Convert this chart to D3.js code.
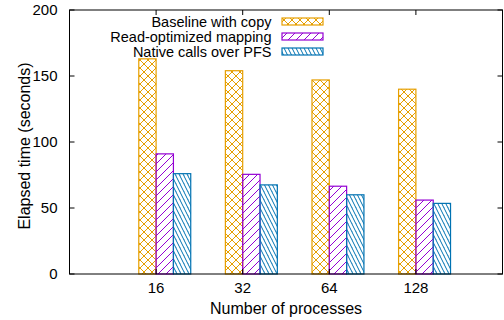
<!DOCTYPE html>
<html>
<head>
<meta charset="utf-8">
<script src="https://cdn.jsdelivr.net/npm/d3@7"></script>
<style>
  html, body { margin: 0; padding: 0; background: #fff; }
  svg { display: block; }
  text { font-family: "Liberation Sans", Arial, Helvetica, sans-serif; fill: #000; }
</style>
</head>
<body>
<svg id="chart" width="504" height="320"></svg>
<script>
const categories = ["16", "32", "64", "128"];
const seriesNames = ["Baseline with copy", "Read-optimized mapping", "Native calls over PFS"];
const baseline = [163, 154, 147, 140];
const readOptimized = [91, 75.5, 66.5, 56];
const nativeCalls = [76, 67.5, 60, 53.5];
const yTicks = [0, 50, 100, 150, 200];
const colors = ["#E69F00", "#9400D3", "#0072B2"];

const series = [baseline, readOptimized, nativeCalls];

const svg = d3.select("#chart");
const pL = 69.5, pR = 502.5, pT = 10, pB = 274;

const x = d3.scaleLinear().domain([0, categories.length + 1]).range([pL, pR]);
const y = d3.scaleLinear().domain([0, 200]).range([pB, pT]);

// patterns
const defs = svg.append("defs");
const p0 = defs.append("pattern").attr("id", "pat0").attr("patternUnits", "userSpaceOnUse")
  .attr("width", 8).attr("height", 8);
p0.append("path").attr("d", "M0,0 L8,8 M-1,7 L1,9 M7,-1 L9,1 M0,8 L8,0 M-1,1 L1,-1 M7,9 L9,7")
  .attr("stroke", colors[0]).attr("stroke-width", 1).attr("fill", "none");
const p1 = defs.append("pattern").attr("id", "pat1").attr("patternUnits", "userSpaceOnUse")
  .attr("width", 8).attr("height", 8);
p1.append("path").attr("d", "M0,8 L8,0 M-1,1 L1,-1 M7,9 L9,7")
  .attr("stroke", colors[1]).attr("stroke-width", 1).attr("fill", "none");
const p2 = defs.append("pattern").attr("id", "pat2").attr("patternUnits", "userSpaceOnUse")
  .attr("width", 4).attr("height", 8);
p2.append("path").attr("d", "M0,0 L4,8 M-2,4 L0,8 M4,0 L6,4 M-4,0 L0,8")
  .attr("stroke", colors[2]).attr("stroke-width", 1).attr("fill", "none");

// bars
const barUnit = 0.2;
series.forEach((vals, s) => {
  svg.append("g").selectAll("rect").data(vals).join("rect")
    .attr("x", (d, i) => x(i + 1 + (s - 1) * barUnit))
    .attr("width", x(barUnit) - x(0))
    .attr("y", d => y(d))
    .attr("height", d => y(0) - y(d))
    .attr("fill", `url(#pat${s})`)
    .attr("stroke", colors[s])
    .attr("stroke-width", 1.2);
});

// frame
svg.append("rect").attr("x", pL).attr("y", pT).attr("width", pR - pL).attr("height", pB - pT)
  .attr("fill", "none").attr("stroke", "#000").attr("stroke-width", 1);

// y ticks (left + right mirror)
const tickLen = 5;
const gy = svg.append("g");
yTicks.forEach(t => {
  gy.append("line").attr("x1", pL).attr("x2", pL + tickLen).attr("y1", y(t)).attr("y2", y(t)).attr("stroke", "#000");
  gy.append("line").attr("x1", pR).attr("x2", pR - tickLen).attr("y1", y(t)).attr("y2", y(t)).attr("stroke", "#000");
  gy.append("text").attr("x", 57.5).attr("y", y(t)).attr("dy", "0.36em")
    .attr("text-anchor", "end").style("font-size", "15px").text(t);
});

// x ticks
const gx = svg.append("g");
categories.forEach((c, i) => {
  const xv = x(i + 1);
  gx.append("line").attr("x1", xv).attr("x2", xv).attr("y1", pT).attr("y2", pT + tickLen).attr("stroke", "#000");
  gx.append("line").attr("x1", xv).attr("x2", xv).attr("y1", pB).attr("y2", pB - tickLen).attr("stroke", "#000");
  gx.append("text").attr("x", xv).attr("y", 288).attr("dy", "0.36em")
    .attr("text-anchor", "middle").style("font-size", "15px").text(c);
});

// axis labels
svg.append("text").attr("x", (pL + pR) / 2).attr("y", 308).attr("dy", "0.36em")
  .attr("text-anchor", "middle").style("font-size", "16px").text("Number of processes");
svg.append("text").attr("transform", `translate(24,${(pT + pB) / 2 + 4}) rotate(-90)`)
  .attr("dy", "0.36em").attr("text-anchor", "middle").style("font-size", "16px")
  .text("Elapsed time (seconds)");

// legend
const lg = svg.append("g");
seriesNames.forEach((n, s) => {
  const cy = 21.5 + s * 15;
  lg.append("text").attr("x", 271.5).attr("y", cy).attr("dy", "0.36em")
    .attr("text-anchor", "end").style("font-size", "14.5px").text(n);
  lg.append("rect").attr("x", 282).attr("y", cy - 3.5).attr("width", 41).attr("height", 7)
    .attr("fill", `url(#pat${s})`).attr("stroke", colors[s]).attr("stroke-width", 1.2);
});
</script>
</body>
</html>
